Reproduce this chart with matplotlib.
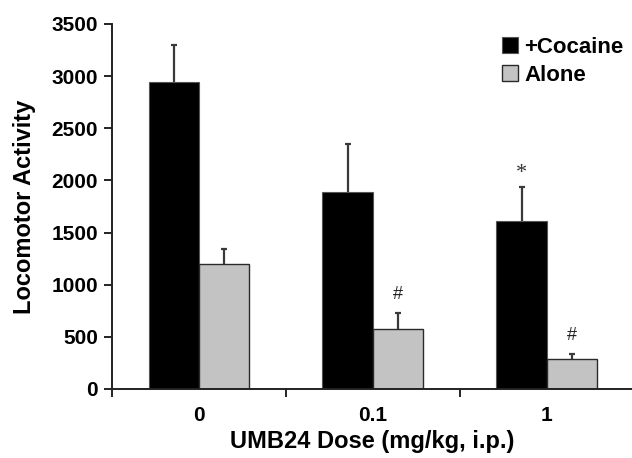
import matplotlib
matplotlib.use("Agg")
import matplotlib.pyplot as plt
import numpy as np

doses = ["0", "0.1", "1"]
series_names = ["+Cocaine", "Alone"]
cocaine_mean = [2940, 1890, 1610]
cocaine_sem = [360, 455, 325]
alone_mean = [1200, 575, 290]
alone_sem = [140, 150, 45]
cocaine_marks = ["", "", "*"]
alone_marks = ["", "#", "#"]
yticks = [0, 500, 1000, 1500, 2000, 2500, 3000, 3500]

plt.rcParams['font.family'] = ['Liberation Sans', 'DejaVu Sans']

fig = plt.figure(figsize=(6.32, 4.58), dpi=100)
ax = fig.add_axes([0.1772, 0.1507, 0.8228, 0.7969])

x = np.arange(len(doses))
w = 0.29
err_kw = dict(ecolor="#3a3a3a", elinewidth=1.6, capsize=2.3, capthick=1.6)
b1 = ax.bar(x - w / 2, cocaine_mean, w, color="black", edgecolor="#555555",
            linewidth=0.8, label=series_names[0],
            yerr=[np.zeros(3), cocaine_sem], error_kw=err_kw, zorder=2)
b2 = ax.bar(x + w / 2, alone_mean, w, color="#c3c3c3", edgecolor="#2a2a2a",
            linewidth=1.0, label=series_names[1],
            yerr=[np.zeros(3), alone_sem], error_kw=err_kw, zorder=2)
# hide the lower caps (errors drawn upward only)
for b in (b1, b2):
    caps = b.errorbar.lines[1]
    if len(caps) >= 1:
        caps[0].set_visible(False)

for i in range(3):
    if cocaine_marks[i]:
        ax.text(x[i] - w / 2, cocaine_mean[i] + cocaine_sem[i] + 40, cocaine_marks[i],
                ha="center", va="bottom", fontsize=16, color="#333333",
                family=["Liberation Serif", "DejaVu Serif"])
    if alone_marks[i]:
        ax.text(x[i] + w / 2, alone_mean[i] + alone_sem[i] + 100, alone_marks[i],
                ha="center", va="bottom", fontsize=13, color="#222222")

ax.set_xlim(-0.5, 2.49)
ax.set_ylim(0, 3500)
ax.set_yticks(yticks)
ax.set_yticklabels([str(t) for t in yticks], fontsize=15, fontweight="bold")
ax.set_xticks([-0.5, 0.5, 1.5])
ax.set_xticklabels([])
ax.set_xticks(x, minor=True)
ax.set_xticklabels(doses, minor=True, fontsize=15, fontweight="bold")
ax.tick_params(axis="x", which="major", direction="out", length=6, width=1.4, color="#222222")
ax.tick_params(axis="x", which="minor", length=0, pad=12)
ax.tick_params(axis="y", direction="out", length=6, width=1.4, color="#222222", pad=4)

for s in ["top", "right"]:
    ax.spines[s].set_visible(False)
for s in ["left", "bottom"]:
    ax.spines[s].set_linewidth(1.4)
    ax.spines[s].set_color("#222222")

ax.set_ylabel("Locomotor Activity", fontsize=17, fontweight="bold", labelpad=11)
ax.set_xlabel("UMB24 Dose (mg/kg, i.p.)", fontsize=17, fontweight="bold", labelpad=4)

leg = ax.legend(loc="upper left", bbox_to_anchor=(0.795, 0.92), bbox_transform=fig.transFigure,
                frameon=False, prop=dict(size=16, weight="bold"),
                handlelength=0.72, handleheight=0.72, handletextpad=0.26,
                labelspacing=0.32, borderpad=0, borderaxespad=0)

fig.savefig("out.png", dpi=100)
